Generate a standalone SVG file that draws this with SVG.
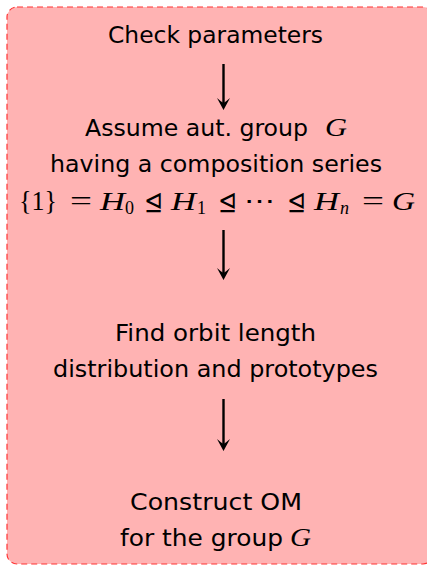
<svg xmlns="http://www.w3.org/2000/svg" width="427" height="565" viewBox="0 0 427 565">
<style>
.t{font-family:"DejaVu Sans","Liberation Sans",sans-serif;font-size:23.5px;fill:#000}
.m{font-family:"Liberation Serif","DejaVu Serif",serif;font-style:italic;font-size:26px;fill:#000}
.r{font-family:"Liberation Serif","DejaVu Serif",serif;font-size:27px;fill:#000}
.s{font-family:"DejaVu Sans",sans-serif;font-size:27px;fill:#000}
.sub{font-family:"Liberation Serif","DejaVu Serif",serif;font-size:18px;fill:#000}
.conn line{stroke:#000;stroke-width:2.4}
.conn path{fill:#000}
</style>
<rect x="7" y="7" width="426" height="557" rx="10" fill="#ffb3b3" stroke="#f33" stroke-width="1.2" stroke-dasharray="6,4"/>
<g id="n1"><text class="t" x="108" y="43" textLength="215" lengthAdjust="spacingAndGlyphs">Check parameters</text></g>
<g id="n2">
<text class="t" x="85" y="136" textLength="223" lengthAdjust="spacingAndGlyphs">Assume aut. group</text>
<text class="m" x="325" y="136" textLength="22" lengthAdjust="spacingAndGlyphs">G</text>
<text class="t" x="50" y="172" textLength="332" lengthAdjust="spacingAndGlyphs">having a composition series</text>
<text class="r" x="19" y="210" font-size="30" textLength="38" lengthAdjust="spacingAndGlyphs">{1}</text>
<text class="r" x="70" y="210" textLength="22" lengthAdjust="spacingAndGlyphs">=</text>
<text class="m" x="100" y="210" textLength="25" lengthAdjust="spacingAndGlyphs">H</text>
<text class="sub" x="125" y="214">0</text>
<text class="s" x="144" y="211" textLength="19" lengthAdjust="spacingAndGlyphs">⊴</text>
<text class="m" x="171" y="210" textLength="25" lengthAdjust="spacingAndGlyphs">H</text>
<text class="sub" x="197" y="214">1</text>
<text class="s" x="218" y="211" textLength="19" lengthAdjust="spacingAndGlyphs">⊴</text>
<text class="r" x="244" y="210" textLength="31" lengthAdjust="spacingAndGlyphs">⋯</text>
<text class="s" x="287" y="211" textLength="19" lengthAdjust="spacingAndGlyphs">⊴</text>
<text class="m" x="314" y="210" textLength="25" lengthAdjust="spacingAndGlyphs">H</text>
<text class="sub" x="340" y="214" font-style="italic">n</text>
<text class="r" x="362" y="210" textLength="22" lengthAdjust="spacingAndGlyphs">=</text>
<text class="m" x="392" y="210" textLength="23" lengthAdjust="spacingAndGlyphs">G</text>
</g>
<g id="n3">
<text class="t" x="115" y="341" textLength="201" lengthAdjust="spacingAndGlyphs">Find orbit length</text>
<text class="t" x="53" y="377" textLength="325" lengthAdjust="spacingAndGlyphs">distribution and prototypes</text>
</g>
<g id="n4">
<text class="t" x="130" y="510" textLength="172" lengthAdjust="spacingAndGlyphs">Construct OM</text>
<text class="t" x="120" y="546" textLength="163" lengthAdjust="spacingAndGlyphs">for the group</text>
<text class="m" x="290" y="546" textLength="21" lengthAdjust="spacingAndGlyphs">G</text>
</g>
<g class="conn">
<line x1="223.5" y1="64" x2="223.5" y2="104"/>
<path d="M223.5,110 L217,98 Q221.5,102 223.5,103 Q225.5,102 230,98 Z"/>
<line x1="223.5" y1="230" x2="223.5" y2="274"/>
<path d="M223.5,280 L217,268 Q221.5,272 223.5,273 Q225.5,272 230,268 Z"/>
<line x1="223.5" y1="399" x2="223.5" y2="445"/>
<path d="M223.5,451 L217,439 Q221.5,443 223.5,444 Q225.5,443 230,439 Z"/>
</g>
</svg>
